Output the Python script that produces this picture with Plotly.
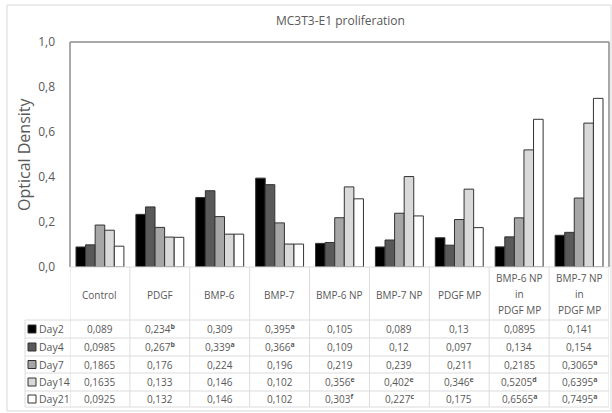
import plotly.graph_objects as go

categories = ["Control", "PDGF", "BMP-6", "BMP-7", "BMP-6 NP", "BMP-7 NP",
              "PDGF MP", "BMP-6 NP\nin\nPDGF MP", "BMP-7 NP\nin\nPDGF MP"]
days = ["Day2", "Day4", "Day7", "Day14", "Day21"]

day2 = [0.089, 0.234, 0.309, 0.395, 0.105, 0.089, 0.13, 0.0895, 0.141]
day4 = [0.0985, 0.267, 0.339, 0.366, 0.109, 0.12, 0.097, 0.134, 0.154]
day7 = [0.1865, 0.176, 0.224, 0.196, 0.219, 0.239, 0.211, 0.2185, 0.3065]
day14 = [0.1635, 0.133, 0.146, 0.102, 0.356, 0.402, 0.346, 0.5205, 0.6395]
day21 = [0.0925, 0.132, 0.146, 0.102, 0.303, 0.227, 0.175, 0.6565, 0.7495]

sup2 = ["", "b", "", "a", "", "", "", "", ""]
sup4 = ["", "b", "a", "a", "", "", "", "", ""]
sup7 = ["", "", "", "", "", "", "", "", "a"]
sup14 = ["", "", "", "", "e", "e", "e", "d", "a"]
sup21 = ["", "", "", "", "f", "c", "", "a", "a"]

series = [day2, day4, day7, day14, day21]
sups = [sup2, sup4, sup7, sup14, sup21]
colors = ["#000000", "#595959", "#a6a6a6", "#d9d9d9", "#ffffff"]

W, H = 612, 413
L, R, T, B = 70, 609, 42, 267
pw, ph = R - L, B - T


def px(x):
    return (x - L) / pw


def py(y):
    return (B - y) / ph


fig = go.Figure()
for d, vals, c in zip(days, series, colors):
    fig.add_trace(go.Bar(
        x=list(range(len(categories))), y=vals, name=d,
        marker=dict(color=c, line=dict(color="#333333", width=1)),
        showlegend=False,
    ))

shapes = []
ann = []
grid = "#dcdcdc"
# plot border
shapes.append(dict(type="line", xref="paper", yref="paper", x0=0, x1=0, y0=0, y1=1,
                   line=dict(color="#8c8c8c", width=1.5)))
shapes.append(dict(type="line", xref="paper", yref="paper", x0=0, x1=1, y0=1, y1=1,
                   line=dict(color="#8c8c8c", width=1.5)))
shapes.append(dict(type="line", xref="paper", yref="paper", x0=1, x1=1, y0=0, y1=1,
                   line=dict(color="#8c8c8c", width=1.5)))
# outer chart border
shapes.append(dict(type="rect", xref="paper", yref="paper", x0=px(7), x1=px(611),
                   y0=py(411), y1=py(5), line=dict(color="#d9d9d9", width=1)))

row_lines = [320, 338, 356, 373, 391, 407]
n = len(categories)
# baseline
shapes.append(dict(type="line", xref="paper", yref="paper", x0=0, x1=1, y0=0, y1=0,
                   line=dict(color=grid, width=1)))
# vertical table lines
for i in range(n + 1):
    shapes.append(dict(type="line", xref="x", yref="paper", x0=i - 0.5, x1=i - 0.5,
                       y0=py(267), y1=py(407), line=dict(color=grid, width=1)))
shapes.append(dict(type="line", xref="paper", yref="paper", x0=px(25), x1=px(25),
                   y0=py(320), y1=py(407), line=dict(color=grid, width=1)))
for yl in row_lines:
    shapes.append(dict(type="line", xref="paper", yref="paper", x0=px(25), x1=1,
                       y0=py(yl), y1=py(yl), line=dict(color=grid, width=1)))

txt = "#595959"
# header labels
for i, c in enumerate(categories):
    lines = c.split("\n")
    if len(lines) == 1:
        ys = [295]
    else:
        ys = [278, 294, 310]
    for ln, yy in zip(lines, ys):
        ann.append(dict(x=i, xref="x", y=py(yy), yref="paper", text=ln, showarrow=False,
                        font=dict(size=10, color=txt), xanchor="center", yanchor="middle"))

# data rows
for r, (d, vals, sp, c) in enumerate(zip(days, series, sups, colors)):
    ymid = (row_lines[r] + row_lines[r + 1]) / 2
    for i, v in enumerate(vals):
        s = str(v).replace(".", ",")
        if sp[i]:
            s += "<sup><b>" + sp[i] + "</b></sup>"
        ann.append(dict(x=i, xref="x", y=py(ymid), yref="paper", text=s, showarrow=False,
                        font=dict(size=10, color=txt), xanchor="center", yanchor="middle"))
    shapes.append(dict(type="rect", xref="paper", yref="paper", x0=px(28), x1=px(36),
                       y0=py(ymid + 4), y1=py(ymid - 4),
                       fillcolor=c, line=dict(color="#333333", width=1)))
    ann.append(dict(x=px(37), xref="paper", y=py(ymid), yref="paper", text=d, showarrow=False,
                    font=dict(size=10.5, color=txt), xanchor="left", yanchor="middle"))

# title
ann.append(dict(x=px(340), xref="paper", y=py(20), yref="paper", text="MC3T3-E1 proliferation",
                showarrow=False, font=dict(size=12, color=txt), xanchor="center", yanchor="middle"))
# y title
ann.append(dict(x=px(24), xref="paper", y=py(154), yref="paper", text="Optical Density",
                showarrow=False, textangle=-90, font=dict(size=16, color=txt),
                xanchor="center", yanchor="middle"))

fig.update_layout(
    width=W, height=H,
    margin=dict(l=L, r=W - R, t=T, b=H - B),
    paper_bgcolor="white", plot_bgcolor="white",
    barmode="group", bargap=0.2, bargroupgap=0,
    separators=",.",
    font=dict(family="Open Sans, Noto Sans, sans-serif", color=txt),
    xaxis=dict(range=[-0.5, n - 0.5], showticklabels=False, showgrid=False,
               zeroline=False, showline=False, ticks=""),
    yaxis=dict(range=[0, 1.0], dtick=0.2, tickformat=".1f", showgrid=False,
               zeroline=False, showline=False, ticks="", ticklen=0,
               ticklabelstandoff=14,
               tickfont=dict(size=12, color=txt)),
    shapes=shapes, annotations=ann,
)
fig.write_html("out.html", config={"displayModeBar": False},
               post_script="document.body.style.margin='0';")
